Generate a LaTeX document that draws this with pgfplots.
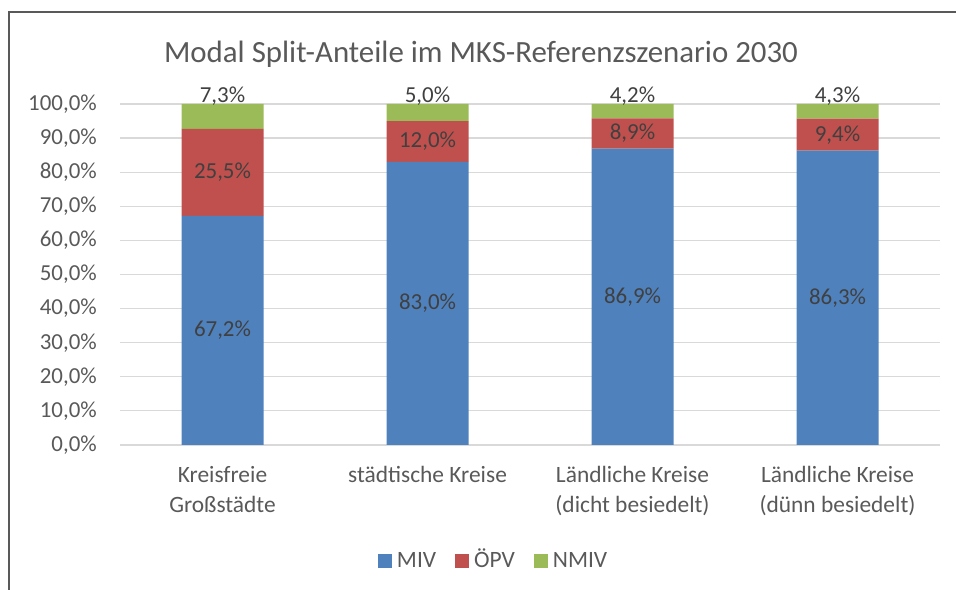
\documentclass[border=0pt]{standalone}
\usepackage{fontspec}
\setmainfont{Carlito}
\usepackage{pgfplots}
\pgfplotsset{compat=1.18}
\usepackage{pgfplotstable}
\definecolor{miv}{HTML}{4F81BD}
\definecolor{opv}{HTML}{C0504D}
\definecolor{nmiv}{HTML}{9BBB59}
\definecolor{txt}{HTML}{595959}
\definecolor{lbl}{HTML}{404040}
\definecolor{gridc}{HTML}{D9D9D9}
\pgfplotstableread{
x miv opv nmiv
0 67.2 25.5 7.3
1 83.0 12.0 5.0
2 86.9 8.9 4.2
3 86.3 9.4 4.3
}\data
\begin{document}
\begin{tikzpicture}[x=1bp,y=1bp]
\path[use as bounding box] (0,0) rectangle (956,590);
\draw[line width=1.8bp, color=txt] (9,0) -- (9,578) -- (956,578);
\node[anchor=base, inner sep=0pt, font=\fontsize{31}{36}\selectfont, text=txt] at (481,527) {Modal Split-Anteile im MKS-Referenzszenario 2030};
\begin{axis}[
  at={(120bp,145bp)}, anchor=south west, scale only axis,
  width=820bp, height=341bp,
  ybar stacked, bar width=82bp,
  xmin=-0.5, xmax=3.5, ymin=0, ymax=100,
  ytick={0,10,...,100},
  xtick={0,1,2,3},
  xticklabels={{Kreisfreie\\Großstädte},{städtische Kreise},{Ländliche Kreise\\(dicht besiedelt)},{Ländliche Kreise\\(dünn besiedelt)}},
  xticklabel style={align=center, font=\fontsize{23.5}{30}\selectfont, text=txt, anchor=north, inner sep=0pt, yshift=-21.5bp},
  yticklabel={\pgfmathprintnumber[fixed,fixed zerofill,precision=1,use comma,assume math mode=true]{\tick}\%},
  yticklabel style={font=\fontsize{23}{26}\selectfont, text=txt, anchor=east, inner sep=0pt, xshift=-23bp},
  major tick length=0pt,
  axis line style={draw=none},
  ymajorgrids, major grid style={draw=gridc, line width=1.2bp},
  legend columns=-1,
  legend style={at={(0.3146,-0.340)}, anchor=west, draw=none, fill=none, inner sep=0pt, outer sep=0pt,
    font=\fontsize{23.5}{26}\selectfont, text=txt,
    nodes={inner sep=0pt, text height=16bp, text depth=3bp},
    column sep=5bp,
    /tikz/every even column/.append style={column sep=19bp}},
  legend image code/.code={\fill[#1] (0bp,-7bp) rectangle (14bp,7bp);},
]
\addplot[fill=miv, draw=none] table[x=x, y=miv] {\data};
\addplot[fill=opv, draw=none] table[x=x, y=opv] {\data};
\addplot[fill=nmiv, draw=none] table[x=x, y=nmiv] {\data};
\legend{MIV, ÖPV, NMIV}
\end{axis}
\begin{axis}[
  at={(120bp,145bp)}, anchor=south west, scale only axis,
  width=820bp, height=341bp,
  xmin=-0.5, xmax=3.5, ymin=0, ymax=100,
  hide axis, clip=false,
  point meta=explicit,
  nodes near coords={\pgfmathprintnumber[fixed,fixed zerofill,precision=1,use comma,assume math mode=true]{\pgfplotspointmeta}\%},
  every node near coord/.append style={font=\fontsize{23}{26}\selectfont, text=lbl, inner sep=0pt},
]
\addplot[draw=none, mark=none, nodes near coords style={anchor=center}] table[x=x, y expr=\thisrow{miv}/2, meta=miv] {\data};
\addplot[draw=none, mark=none, nodes near coords style={anchor=center}] table[x=x, y expr=\thisrow{miv}+\thisrow{opv}/2, meta=opv] {\data};
\addplot[draw=none, mark=none, nodes near coords style={anchor=base, yshift=1bp}] table[x=x, y expr=\thisrow{miv}+\thisrow{opv}+\thisrow{nmiv}, meta=nmiv] {\data};
\end{axis}
\end{tikzpicture}
\end{document}
